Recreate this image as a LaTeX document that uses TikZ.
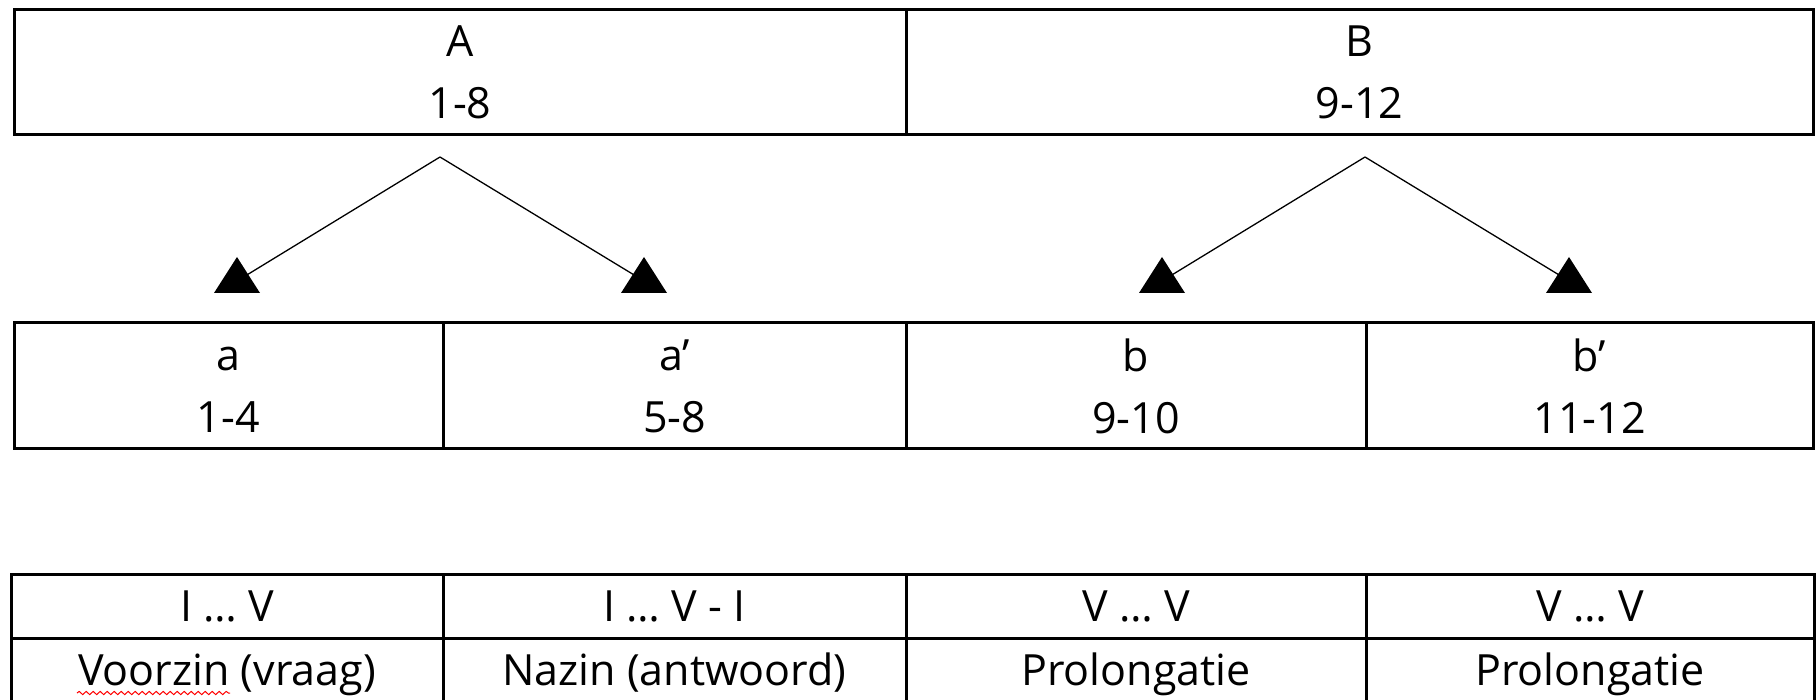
\documentclass[tikz,border=0pt]{standalone}
\usepackage{fontspec}
\setmainfont{Open Sans}
\usetikzlibrary{decorations.pathmorphing}
\begin{document}
\begin{tikzpicture}[x=1pt,y=-1pt,
  cell/.style={draw, line width=3pt, inner sep=0pt, outer sep=0pt, align=center,
    font=\fontsize{43}{62}\selectfont},
  rowone/.style={cell, text height=30pt, text depth=0pt},
  rowtwo/.style={cell, text height=30pt, text depth=8pt},
  conn/.style={line width=1.3pt},
  tri/.style={fill=black},
  squiggle/.style={draw=red, line width=1pt, decorate,
    decoration={snake, segment length=7pt, amplitude=1.6pt}}]
\useasboundingbox (0,0) rectangle (1816,700);
\clip (0,0) rectangle (1816,700);

% top row
\node[cell, minimum width=892pt, minimum height=125pt] (A) at (460,72.5) {\vphantom{A}A\\1-8};
\node[cell, minimum width=907pt, minimum height=125pt] (B) at (1359.5,72.5) {\vphantom{A}B\\9-12};

% middle row
\node[cell, minimum width=429pt, minimum height=126pt] (a)  at (228.5,386) {\vphantom{A}a\\1-4};
\node[cell, minimum width=463pt, minimum height=126pt] (a2) at (674.5,386) {\vphantom{A}a’\\5-8};
\node[cell, minimum width=460pt, minimum height=126pt] (b)  at (1136,386)  {\vphantom{A}b\\9-10};
\node[cell, minimum width=447pt, minimum height=126pt] (b2) at (1589.5,386) {\vphantom{A}b’\\11-12};

% bottom table, row 1
\node[rowone, minimum width=432pt, minimum height=64pt] (h1) at (227,606)    {I … V};
\node[rowone, minimum width=463pt, minimum height=64pt] (h2) at (674.5,606)  {I … V - I};
\node[rowone, minimum width=460pt, minimum height=64pt] (h3) at (1136,606)   {V … V};
\node[rowone, minimum width=448pt, minimum height=64pt] (h4) at (1590,606)   {V … V};

% bottom table, row 2
\node[rowtwo, minimum width=432pt, minimum height=72pt] (d1) at (227,674)    {Voorzin (vraag)};
\node[rowtwo, minimum width=463pt, minimum height=72pt] (d2) at (674.5,674)  {Nazin (antwoord)};
\node[rowtwo, minimum width=460pt, minimum height=72pt] (d3) at (1136,674)   {Prolongatie};
\node[rowtwo, minimum width=448pt, minimum height=72pt] (d4) at (1590,674)   {Prolongatie};

% spell-check squiggle under "Voorzin"
\coordinate (sqs) at (77,693);
\coordinate (sqe) at (230,693);
\draw[squiggle] (sqs) -- (sqe);

% branching connectors
\coordinate (apA) at (440,157);
\coordinate (apB) at (1365,157);
\coordinate (tA1) at (237,281);
\coordinate (tA2) at (644,281);
\coordinate (tB1) at (1162,281);
\coordinate (tB2) at (1569,281);

\draw[conn] (apA) -- (tA1);
\draw[conn] (apA) -- (tA2);
\draw[conn] (apB) -- (tB1);
\draw[conn] (apB) -- (tB2);

\foreach \t in {tA1,tA2,tB1,tB2}{
  \fill[tri] (\t) ++(0,-24) -- ++(-23,36) -- ++(46,0) -- cycle;
}
\end{tikzpicture}
\end{document}
